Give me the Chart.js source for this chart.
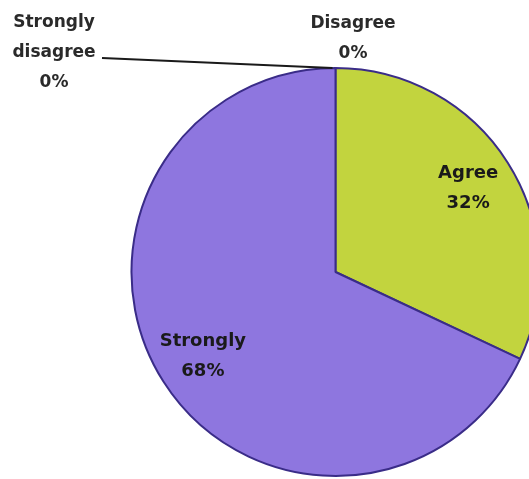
<!DOCTYPE html>
<html>
<head>
<meta charset="utf-8">
<script src="https://cdn.jsdelivr.net/npm/chart.js@4"></script>
<style>
  html, body { margin: 0; padding: 0; background: #fff; }
  #wrap { width: 529px; height: 479px; position: relative; }
</style>
</head>
<body>
<div id="wrap"><canvas id="myChart"></canvas></div>
<script>
// datos del grafico
const categories = ['Agree', 'Strongly', 'Strongly disagree', 'Disagree'];
const percents = [32, 68, 0, 0];
const sliceColors = ['#c2d43e', '#8e76df', '#6a5acd', '#999999'];

// labels for the 0% slices sit outside the pie
const outsideLabels = {
    'Strongly disagree': { lines: ['Strongly', 'disagree', '0%'], x: 54, y: 23, leader: true },
    'Disagree': { lines: ['Disagree', '0%'], x: 353, y: 24, leader: false }
};

const labelPlugin = {
    id: 'sliceLabels',
    afterDatasetsDraw: function(chart) {
        const ctx = chart.ctx;
        const meta = chart.getDatasetMeta(0);
        ctx.save();
        ctx.fillStyle = '#1a1a1a';
        ctx.textAlign = 'center';
        ctx.textBaseline = 'middle';

        meta.data.forEach(function(arc, i) {
            const p = arc.getProps(['x', 'y', 'startAngle', 'endAngle', 'outerRadius'], true);
            const name = categories[i];
            const val = percents[i];
            if (val > 0) {
                const mid = (p.startAngle + p.endAngle) / 2;
                const r = p.outerRadius * 0.77;
                const x = p.x + Math.cos(mid) * r;
                const y = p.y + Math.sin(mid) * r;
                ctx.font = 'bold 18px "DejaVu Sans"';
                ctx.fillText(name, x, y - 15);
                ctx.fillText(val + '%', x, y + 15);
            } else {
                const lab = outsideLabels[name];
                ctx.font = 'bold 17px "DejaVu Sans"';
                ctx.fillStyle = '#2a2a2a';
                lab.lines.forEach(function(t, k) {
                    ctx.fillText(t, lab.x, lab.y + k * 30);
                });
                if (lab.leader) {
                    const tx = p.x + Math.cos(p.startAngle) * p.outerRadius;
                    const ty = p.y + Math.sin(p.startAngle) * p.outerRadius;
                    ctx.strokeStyle = '#1a1a1a';
                    ctx.lineWidth = 2;
                    ctx.beginPath();
                    ctx.moveTo(102, 58);
                    ctx.lineTo(tx - 3, ty);
                    ctx.stroke();
                }
                ctx.fillStyle = '#1a1a1a';
            }
        });
        ctx.restore();
    }
};

var ctx = document.getElementById('myChart').getContext('2d');
var myChart = new Chart(ctx,
{
    type: 'pie',
    data:
    {
        labels: categories,
        datasets:
        [
            {
                data: percents,
                backgroundColor: sliceColors,
                borderColor: '#3a2c88',
                borderWidth: 2,
                radius: 204
            }
        ]
    },
    options:
    {
        responsive: true,
        maintainAspectRatio: false,
        animation: false,
        layout: { padding: { left: 142, right: 0, top: 66, bottom: 1 } },
        plugins:
        {
            legend: { display: false },
            tooltip: { enabled: false },
            title: { display: false }
        }
    },
    plugins: [labelPlugin]
});
</script>
</body>
</html>
